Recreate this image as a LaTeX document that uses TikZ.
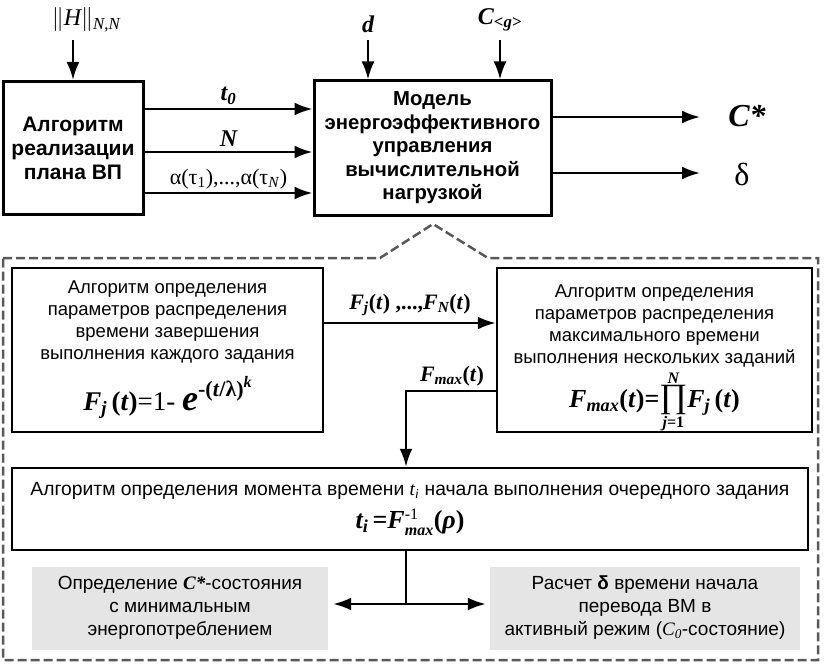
\RequirePackage{fix-cm}
\documentclass[tikz,border=0pt]{standalone}
\usepackage{fontspec}
\usepackage{graphicx}
\setmainfont{Liberation Sans}
\newfontfamily\tms{Liberation Serif}
\usetikzlibrary{arrows.meta,positioning,calc}
\newcommand{\mv}[1]{{\tms\bfseries\itshape #1}}
\newcommand{\mr}[1]{{\tms\bfseries #1}}
\newcommand{\fs}[1]{\fontsize{#1}{#1}\selectfont}
\tikzset{
  topbox/.style={draw, line width=3pt, align=center, inner sep=0pt,
    font=\fontsize{20.3}{23.5}\selectfont\bfseries},
  algbox/.style={draw, line width=2.5pt, align=center, inner sep=0pt,
    font=\fontsize{18.5}{22}\selectfont},
  graybox/.style={fill=black!10, align=center, inner sep=0pt,
    font=\fontsize{19}{23}\selectfont},
  arr/.style={line width=2.5pt, -{Latex[length=18pt,width=13pt]}},
  lbl/.style={inner sep=0pt, font=\fs{24}},
}
\begin{document}
\begin{tikzpicture}[x=1pt,y=1pt]
\useasboundingbox (0,0) rectangle (825,-669);
% upper level
\node[topbox, minimum width=140pt, minimum height=133pt, font=\fontsize{21}{24}\selectfont\bfseries] (algo) at (73,-148) {Алгоритм\\реализации\\плана ВП};
\node[topbox, minimum width=237pt, minimum height=134pt] (model) at (432.5,-148) {Модель\\энергоэффективного\\управления\\вычислительной\\нагрузкой};
\node[lbl] (H) at (86,-20) {$\|${\tms\itshape H}$\|$\textsubscript{\tms\itshape N,N}};
\node[lbl] (d) at (368,-24) {\mv{d}};
\node[lbl] (Cg) at (500,-20) {\mv{C}\textsubscript{\mv{<g>}}};
\coordinate (Hin) at (73,-40);
\coordinate (din) at (368,-40);
\coordinate (Cgin) at (500,-40);
\draw[arr] (Hin) -- (Hin |- algo.north);
\draw[arr] (din) -- (din |- model.north);
\draw[arr] (Cgin) -- (Cgin |- model.north);
\draw[arr] ([yshift=39pt]algo.east) -- ([yshift=39pt]model.west) node[lbl, midway, above=3pt] {\mv{t}\textsubscript{\mv{0}}};
\draw[arr] ([yshift=-4pt]algo.east) -- ([yshift=-4pt]model.west) node[lbl, midway, above=4pt] {\mv{N}};
\draw[arr] ([yshift=-45pt]algo.east) -- ([yshift=-45pt]model.west) node[lbl, midway, above=3pt, font=\fs{22}] {\tms α(τ\textsubscript{1}),...,α(τ\textsubscript{\textit{N}})};
\node[lbl, font=\fs{32}] (Cstar) at (747,-116) {\mv{C*}};
\node[lbl, font=\fs{32}] (delta) at (742,-174) {\tms δ};
\coordinate (Cout) at (700,-117);
\coordinate (dout) at (700,-173);
\draw[arr] (model.east |- Cout) -- (Cout);
\draw[arr] (model.east |- dout) -- (dout);
% detailed level
\draw[dash pattern=on 9pt off 4pt, line width=2.5pt, black!65] (3,-258) -- (380,-258) -- (433,-224) -- (488,-258) -- (818,-258) -- (818,-660) -- (3,-660) -- cycle;
\node[algbox, minimum width=311pt, minimum height=164pt] (boxA) at (167.5,-350) {Алгоритм определения\\параметров распределения\\времени завершения\\выполнения каждого задания\\[12pt]
  \fs{27}\mv{F}\textsubscript{\mv{j}}\,\mr{(\textit{t})}{\tms =1- }{\fs{36}\mv{e}}\raisebox{14pt}{\fs{22}\mr{-(\textit{t}/λ)}\raisebox{9pt}{\fs{16}\mv{k}}}};
\node[algbox, minimum width=315pt, minimum height=164pt] (boxB) at (654.5,-350) {Алгоритм определения\\параметров распределения\\максимального времени\\выполнения нескольких заданий\\[22pt]
  \fs{26}\mv{F}\textsubscript{\mv{max}}\mr{(\textit{t})=}$\smash{\mathop{\hbox{\fs{34}\tms ∏}}\limits_{\hbox{\fs{16}\mv{j}\mr{=1}}}^{\hbox{\fs{16}\mv{N}}}}$\mv{F}\textsubscript{\mv{j}}\,\mr{(\textit{t})}};
\node[algbox, minimum width=796pt, minimum height=82pt, font=\fontsize{19.3}{22}\selectfont] (boxC) at (410,-509) {Алгоритм определения момента времени {\tms\itshape t}\textsubscript{\tms\itshape i} начала выполнения очередного задания\\[8pt]
  \fs{26}\mv{t}\textsubscript{\mv{i}}\,\mr{=}\mv{F}$^{\hbox{\fs{16}\tms -1}}_{\hbox{\fs{16}\mv{max}}}$\mr{(\textit{ρ})}};
\node[graybox, minimum width=296pt, minimum height=83pt] (grayL) at (180,-608) {Определение \mv{C*}-состояния\\с минимальным\\энергопотреблением};
\node[graybox, minimum width=310pt, minimum height=83pt] (grayR) at (645,-608) {Расчет \textbf{δ} времени начала\\перевода ВМ в\\активный режим ({\tms\itshape C}\textsubscript{\tms\itshape 0}-состояние)};
\draw[arr] ([yshift=27pt]boxA.east) -- ([yshift=27pt]boxB.west) node[lbl, midway, above=6pt, font=\fs{22}] {\mv{F}\textsubscript{\mv{j}}\mr{(\textit{t}) ,...,}\mv{F}\textsubscript{\mv{N}}\mr{(\textit{t})}};
\draw[arr] ([yshift=-41pt]boxB.west) -| ([xshift=-4pt]boxC.north);
\node[lbl, font=\fs{22}] (Fmax) at (452,-376) {\mv{F}\textsubscript{\mv{max}}\mr{(\textit{t})}};
\coordinate (split) at (406,-604);
\draw[line width=2.5pt] ([xshift=-4pt]boxC.south) -- (split);
\draw[line width=2.5pt, {Latex[length=18pt,width=13pt]}-{Latex[length=18pt,width=13pt]}] ([xshift=5pt]grayL.east |- split) -- ([xshift=-4pt]grayR.west |- split);
\end{tikzpicture}
\end{document}
